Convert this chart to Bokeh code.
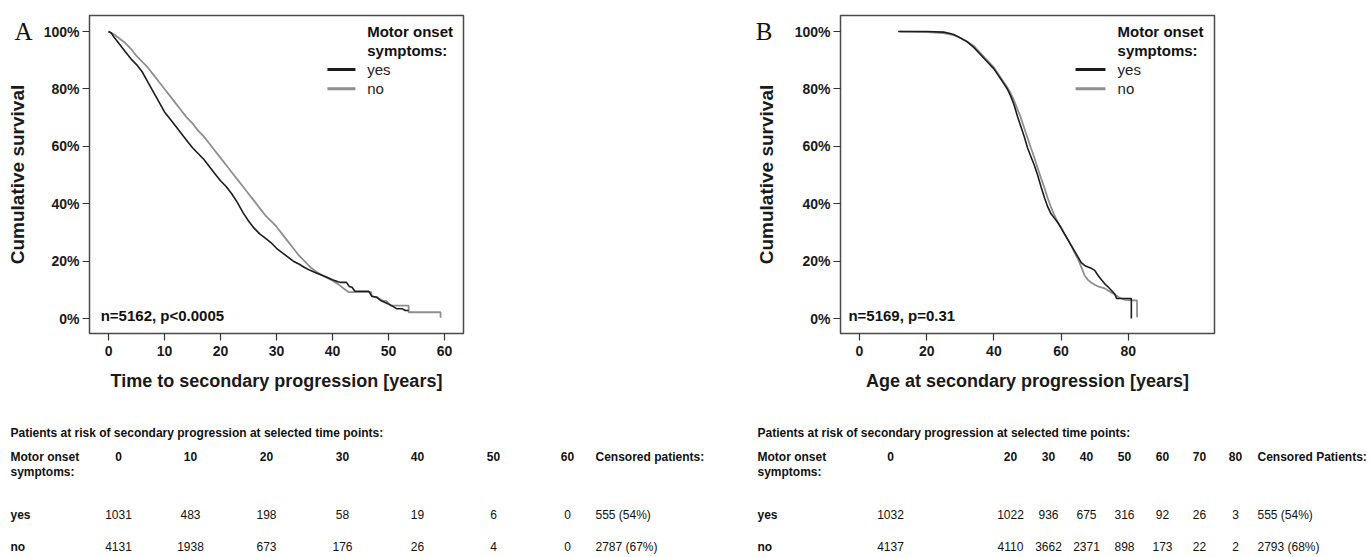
from bokeh.plotting import figure
from bokeh.models import Range1d, Label, LinearAxis, FixedTicker
from bokeh.layouts import column, row
from bokeh.embed import file_html
from bokeh.resources import INLINE

# ---------------- data ----------------
# Panel A: time to secondary progression (years) vs cumulative survival (%)
a_yes_t = [0, 0.5, 1, 2, 3, 4, 5, 6, 7, 8, 9, 10, 11, 12, 13, 14, 15, 16, 17, 18, 19, 20,
           21, 22, 23, 24, 25, 26, 27, 28, 29, 30, 31, 32, 33, 34, 35, 36, 37, 38, 39, 40,
           41, 41.5, 42.5, 43, 43.5, 44, 46.5, 47, 48, 48.6, 49.5, 50.5, 51.5, 52.5, 53, 53.6]
a_yes_s = [100, 99.5, 98, 95.5, 93, 90.5, 88.5, 86, 82.5, 79, 75.5, 72, 69.5, 67, 64.5, 62, 59.5,
           57.5, 55.5, 53, 50.5, 48, 46, 43.5, 40.5, 37, 34, 31.5, 29.5, 28, 26.5, 24.5, 23, 21.5,
           20, 19, 17.8, 16.8, 16, 15.2, 14.4, 13.5, 12.8, 12.6, 12.6, 11.2, 10.9, 9.5, 9.5, 7.8,
           7.4, 6.3, 5.5, 4.6, 3.4, 3.4, 2.8, 2.8]
a_no_t = [0, 1, 2, 3, 4, 5, 6, 7, 8, 9, 10, 11, 12, 13, 14, 15, 16, 17, 18, 19, 20, 21, 22, 23,
          24, 25, 26, 27, 28, 29, 30, 31, 32, 33, 34, 35, 36, 37, 38, 39, 40, 41, 42, 42.9, 46.9,
          47, 48, 49, 49.6, 50.4, 53.6, 53.6, 59.3, 59.3]
a_no_s = [100, 99, 97.5, 96, 94, 91.5, 89.5, 87.5, 85, 82.5, 80, 77.5, 75, 72.5, 70, 68, 65.5,
          63.5, 61, 58.5, 56, 53.5, 51, 48.5, 46, 43.5, 41, 38.5, 36, 34, 32, 29.5, 27, 24.5, 22,
          20, 18, 16.5, 15.3, 14.2, 13.2, 12, 10.5, 9.2, 9.2, 7.8, 7.2, 6.2, 6.2, 4.5, 4.5, 2.2,
          2.2, 0.3]

# Panel B: age at secondary progression (years) vs cumulative survival (%)
b_yes_t = [11.5, 15, 20, 25, 27, 28, 30, 32, 34, 36, 38, 40, 42, 44, 45, 46, 47, 48, 49, 50, 51,
           52, 53, 54, 55, 56, 57, 58, 59, 60, 61, 62, 63, 64, 65, 66, 67, 68, 69, 70, 71, 72, 73,
           74, 75, 76, 76.5, 80.9, 80.9]
b_yes_s = [100, 100, 100, 99.8, 99.3, 99, 97.8, 96.5, 94.5, 92, 89.5, 87, 83.5, 80, 77.5, 74.5,
           70.5, 67, 63.5, 59.5, 56.5, 53.5, 50, 46, 42.3, 39, 36.5, 35, 33.5, 31.5, 29.5, 27.5,
           25.5, 23.5, 21.5, 19.5, 18.5, 18, 17.5, 16.8, 15, 13.5, 12.1, 11, 9.8, 8.5, 7.0, 7.0, 0]
b_no_t = [12, 20, 25, 28, 30, 32, 34, 36, 38, 40, 42, 44, 45, 46, 47, 48, 49, 50, 51, 52, 53, 54,
          55, 56, 57, 58, 59, 60, 61, 62, 63, 64, 65, 66, 67, 68, 69, 70, 71, 72, 73, 74, 75, 76,
          77, 78, 79, 82.6, 82.6]
b_no_s = [100, 99.8, 99.5, 98.8, 97.8, 96.5, 95, 92.5, 90, 87.5, 84, 80.5, 78.5, 76, 73, 70,
          66.5, 63, 59.5, 56.2, 52.5, 49, 45.7, 42, 38.8, 36, 33.5, 31.8, 29.5, 27.5, 25.5, 23,
          20.8, 18, 15, 13.5, 12.5, 11.8, 11.2, 10.9, 10.5, 9.8, 9.0, 8.4, 7.5, 7.0, 6.5, 6.3, 0.5]

y_ticks = [0, 20, 40, 60, 80, 100]
y_tick_labels = ["0%", "20%", "40%", "60%", "80%", "100%"]
a_x_ticks = [0, 10, 20, 30, 40, 50, 60]
b_x_ticks = [0, 20, 40, 60, 80]

legend_title = ["Motor onset", "symptoms:"]
legend_labels = ["yes", "no"]
a_stat = "n=5162, p<0.0005"
b_stat = "n=5169, p=0.31"
y_title = "Cumulative survival"

table_title = "Patients at risk of secondary progression at selected time points:"
a_tab_times = ["0", "10", "20", "30", "40", "50", "60"]
a_tab_yes = ["1031", "483", "198", "58", "19", "6", "0"]
a_tab_no = ["4131", "1938", "673", "176", "26", "4", "0"]
a_cens = ["555 (54%)", "2787 (67%)"]
b_tab_times = ["0", "20", "30", "40", "50", "60", "70", "80"]
b_tab_yes = ["1032", "1022", "936", "675", "316", "92", "26", "3"]
b_tab_no = ["4137", "4110", "3662", "2371", "898", "173", "22", "2"]
b_cens = ["555 (54%)", "2793 (68%)"]

BLACK = "#1c1c1c"
GRAY = "#8f8f8f"
FONT = "Liberation Sans"


def style(p, xticks, letter, letter_standoff, title_standoff):
    p.xaxis.ticker = xticks
    p.yaxis.ticker = y_ticks
    p.yaxis.major_label_overrides = {t: l for t, l in zip(y_ticks, y_tick_labels)}
    for ax in (p.xaxis[0], p.yaxis[0]):
        ax.axis_line_color = None
        ax.major_tick_in = 0
        ax.major_tick_out = 7
        ax.major_tick_line_color = "#333333"
        ax.major_tick_line_width = 1.2
        ax.minor_tick_line_color = None
        ax.major_label_text_font = FONT
        ax.major_label_text_font_style = "bold"
        ax.major_label_text_font_size = "14px"
        ax.major_label_text_color = "#1a1a1a"
        ax.axis_label_text_font = FONT
        ax.axis_label_text_font_style = "bold"
        ax.axis_label_text_color = "#1a1a1a"
    p.xaxis.major_label_standoff = 5
    p.yaxis.major_label_standoff = 3
    p.xaxis.axis_label_text_font_size = "18px"
    p.xaxis.axis_label_standoff = 12
    # outer left axis: panel letter at the 100% level plus the y title
    outer = LinearAxis(ticker=FixedTicker(ticks=[100]), major_label_overrides={100: letter},
                       axis_label=y_title, axis_line_color=None, major_tick_line_color=None,
                       minor_tick_line_color=None, major_tick_in=0, major_tick_out=0,
                       major_label_standoff=letter_standoff,
                       major_label_text_font="Liberation Serif",
                       major_label_text_font_size="25px", major_label_text_color="#111111",
                       axis_label_text_font=FONT, axis_label_text_font_style="bold",
                       axis_label_text_font_size="19px", axis_label_text_color="#1a1a1a",
                       axis_label_standoff=title_standoff)
    p.add_layout(outer, "left")
    p.grid.visible = False
    p.outline_line_color = "#4a4a4a"
    p.outline_line_width = 1.5
    p.background_fill_color = "white"
    p.border_fill_color = "white"


def add_legend(p, x0, x1, xt):
    ys = [100, 93.4, 86.8, 80.1]
    for txt, yy in zip(legend_title, ys[:2]):
        p.add_layout(Label(x=xt, y=yy, text=txt, text_font=FONT, text_font_style="bold",
                           text_font_size="15px", text_baseline="middle", text_color="#111111"))
    for txt, yy, col in zip(legend_labels, ys[2:], [BLACK, GRAY]):
        p.segment(x0=[x0], y0=[yy], x1=[x1], y1=[yy], line_color=col, line_width=3)
        p.add_layout(Label(x=xt, y=yy, text=txt, text_font=FONT, text_font_size="15px",
                           text_baseline="middle", text_color="#222222"))


# ---------------- panel A ----------------
pa = figure(width=690, height=400, x_range=Range1d(-3.4, 63.4), y_range=Range1d(-5.2, 105.6),
            min_border_left=89, min_border_right=227, min_border_top=15, min_border_bottom=67,
            output_backend="svg", toolbar_location=None,
            x_axis_label="Time to secondary progression [years]")
style(pa, a_x_ticks, "A", 8, -17)
pa.line(a_no_t, a_no_s, line_color=GRAY, line_width=1.8)
pa.line(a_yes_t, a_yes_s, line_color=BLACK, line_width=1.6)
add_legend(pa, 39.1, 44.1, 46.2)
pa.add_layout(Label(x=-1.4, y=1.0, text=a_stat, text_font=FONT, text_font_style="bold",
                    text_font_size="15px", text_baseline="middle", text_color="#111111"))

# ---------------- panel B ----------------
pb = figure(width=681, height=400, x_range=Range1d(-5.65, 105.65), y_range=Range1d(-5.2, 105.6),
            min_border_left=150, min_border_right=157, min_border_top=15, min_border_bottom=67,
            output_backend="svg", toolbar_location=None,
            x_axis_label="Age at secondary progression [years]")
style(pb, b_x_ticks, "B", 19, -24)
pb.line(b_no_t, b_no_s, line_color=GRAY, line_width=1.8)
pb.line(b_yes_t, b_yes_s, line_color=BLACK, line_width=1.6)
add_legend(pb, 64.3, 73.2, 76.8)
pb.add_layout(Label(x=-3.3, y=1.0, text=b_stat, text_font=FONT, text_font_style="bold",
                    text_font_size="15px", text_baseline="middle", text_color="#111111"))

# ---------------- tables ----------------
pt = figure(width=1371, height=157, x_range=Range1d(0, 1371), y_range=Range1d(557, 400),
            min_border=0, output_backend="svg", toolbar_location=None)
pt.axis.visible = False
pt.grid.visible = False
pt.outline_line_color = None

Y_TITLE, Y_HEAD1, Y_HEAD2, Y_YES, Y_NO = 432, 456, 471, 514, 546


def table(x_label, col_x, cens_x, times, yes_vals, no_vals, cens, cens_head):
    def t(x, y, s, bold=False, align="left"):
        pt.add_layout(Label(x=x, y=y, text=s, text_font=FONT,
                            text_font_style="bold" if bold else "normal",
                            text_font_size="12px", text_baseline="middle", text_align=align,
                            text_color="#111111"))
    t(x_label, Y_TITLE, table_title, bold=True)
    t(x_label, Y_HEAD1, "Motor onset", bold=True)
    t(x_label, Y_HEAD2, "symptoms:", bold=True)
    t(x_label, Y_YES, "yes", bold=True)
    t(x_label, Y_NO, "no", bold=True)
    for x, tm, yv, nv in zip(col_x, times, yes_vals, no_vals):
        t(x, Y_HEAD1, tm, bold=True, align="center")
        t(x, Y_YES, yv, align="center")
        t(x, Y_NO, nv, align="center")
    t(cens_x, Y_HEAD1, cens_head, bold=True)
    t(cens_x, Y_YES, cens[0])
    t(cens_x, Y_NO, cens[1])


table(10, [118, 190, 266, 342, 417, 493, 567], 595, a_tab_times, a_tab_yes, a_tab_no, a_cens,
      "Censored patients:")
table(757, [890, 1010, 1048, 1086, 1124, 1162, 1199, 1235], 1257, b_tab_times, b_tab_yes,
      b_tab_no, b_cens, "Censored Patients:")

layout = column(row(pa, pb), pt)
open("out.html", "w").write(file_html(layout, INLINE))
